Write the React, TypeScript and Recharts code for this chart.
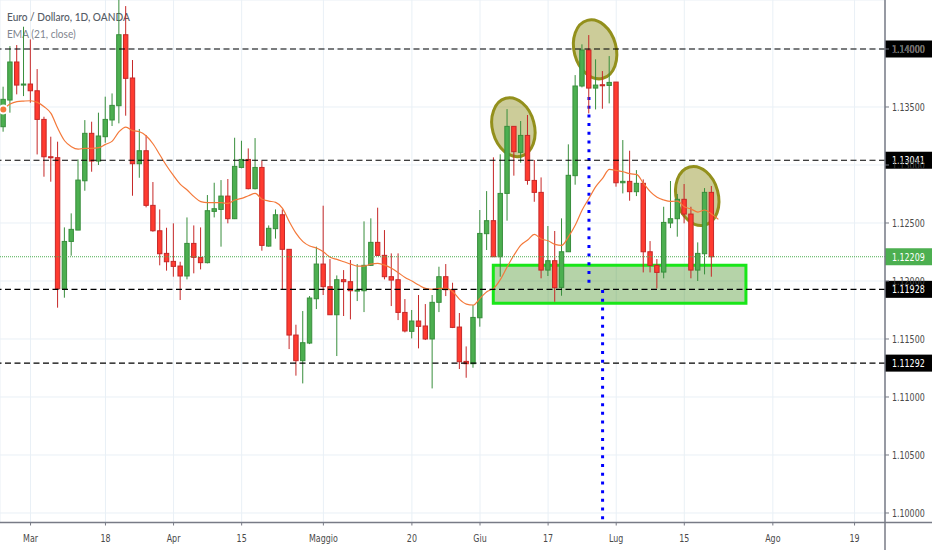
import { ComposedChart, Bar, Line, XAxis, YAxis, CartesianGrid, ReferenceLine, ReferenceArea, ReferenceDot } from 'recharts';

const axisFont = '"DejaVu Sans Condensed", "DejaVu Sans", sans-serif';
const legendFont = 'Lato, sans-serif';

const highs = [
  1.13675, 1.14025, 1.14034, 1.14192, 1.14083, 1.13827, 1.13416, 1.13244, 1.13201, 1.12462,
  1.12583, 1.13048, 1.13387, 1.13373, 1.13451, 1.13589, 1.13617, 1.14436, 1.14370, 1.13905,
  1.13310, 1.13258, 1.12853, 1.12617, 1.12459, 1.12497, 1.12166, 1.12548, 1.12479, 1.12462,
  1.12741, 1.12847, 1.12870, 1.12879, 1.13235, 1.13209, 1.13143, 1.13232, 1.13037, 1.12479,
  1.12617, 1.12617, 1.12273, 1.11623, 1.11741, 1.11870, 1.12296, 1.12649, 1.12189, 1.12048,
  1.12094, 1.12181, 1.12146, 1.12514, 1.12540, 1.12632, 1.12439, 1.12238, 1.12238, 1.11844,
  1.11750, 1.11879, 1.11801, 1.11879, 1.12123, 1.12146, 1.11985, 1.11724, 1.11436, 1.11793,
  1.12612, 1.12775, 1.13066, 1.13092, 1.13482, 1.13333, 1.13379, 1.13431, 1.13043, 1.12893,
  1.12474, 1.12431, 1.12540, 1.13178, 1.13775, 1.14040, 1.14120, 1.13911, 1.13810, 1.13939,
  1.13715, 1.13215, 1.13123, 1.12956, 1.12876, 1.12344, 1.12189, 1.12640, 1.12862, 1.12750,
  1.12836, 1.12640, 1.12333, 1.12801, 1.12819,
];
const lows = [
  1.13287, 1.13451, 1.13609, 1.13594, 1.13537, 1.13091, 1.12899, 1.12856, 1.11770, 1.11856,
  1.12218, 1.12439, 1.12778, 1.12942, 1.13000, 1.13192, 1.13336, 1.13359, 1.13425, 1.12735,
  1.12890, 1.12635, 1.12425, 1.12135, 1.12089, 1.12037, 1.11836, 1.12014, 1.12066, 1.12100,
  1.12152, 1.12548, 1.12296, 1.12497, 1.12534, 1.12971, 1.12790, 1.12790, 1.12261, 1.12296,
  1.12365, 1.11928, 1.11413, 1.11184, 1.11117, 1.11456, 1.11758, 1.11879, 1.11709, 1.11353,
  1.11698, 1.11669, 1.11827, 1.11732, 1.12129, 1.12215, 1.12014, 1.11784, 1.11663, 1.11557,
  1.11505, 1.11419, 1.11491, 1.11074, 1.11732, 1.11870, 1.11594, 1.11241, 1.11166, 1.11252,
  1.11606, 1.12267, 1.12209, 1.12037, 1.12520, 1.12908, 1.13020, 1.12830, 1.12683, 1.12023,
  1.12043, 1.11821, 1.11873, 1.12252, 1.12830, 1.13669, 1.13445, 1.13479, 1.13485, 1.13531,
  1.12813, 1.12755, 1.12692, 1.12732, 1.12074, 1.12074, 1.11936, 1.12023, 1.12456, 1.12382,
  1.12497, 1.12023, 1.12000, 1.12057, 1.12037,
];
const opens = [
  1.13330, 1.13560, 1.13888, 1.13689, 1.13698, 1.13640, 1.13393, 1.13071, 1.13063, 1.11933,
  1.12341, 1.12439, 1.12864, 1.13273, 1.13034, 1.13244, 1.13388, 1.13511, 1.14123, 1.13750,
  1.13011, 1.13123, 1.12652, 1.12433, 1.12238, 1.12169, 1.12129, 1.12043, 1.12324, 1.12204,
  1.12158, 1.12600, 1.12617, 1.12732, 1.12537, 1.12979, 1.13048, 1.12796, 1.12979, 1.12301,
  1.12451, 1.12571, 1.12273, 1.11534, 1.11313, 1.11465, 1.11847, 1.12146, 1.11951, 1.11709,
  1.12011, 1.11994, 1.11913, 1.11916, 1.12135, 1.12333, 1.12221, 1.12037, 1.12011, 1.11729,
  1.11566, 1.11655, 1.11612, 1.11500, 1.11816, 1.12037, 1.11925, 1.11603, 1.11307, 1.11287,
  1.11683, 1.12408, 1.12520, 1.12209, 1.12755, 1.13333, 1.13109, 1.13255, 1.12867, 1.12764,
  1.12094, 1.12175, 1.11945, 1.12252, 1.12908, 1.13681, 1.13991, 1.13663, 1.13692, 1.13686,
  1.13715, 1.12847, 1.12859, 1.12770, 1.12842, 1.12252, 1.12135, 1.12077, 1.12500, 1.12537,
  1.12704, 1.12577, 1.12094, 1.12235, 1.12764,
];
const closes = [
  1.13566, 1.13888, 1.13689, 1.13698, 1.13640, 1.13393, 1.13071, 1.13063, 1.11933, 1.12341,
  1.12445, 1.12870, 1.13273, 1.13034, 1.13250, 1.13393, 1.13514, 1.14123, 1.13747, 1.13011,
  1.13123, 1.12652, 1.12433, 1.12235, 1.12166, 1.12126, 1.12043, 1.12324, 1.12204, 1.12158,
  1.12606, 1.12623, 1.12732, 1.12537, 1.12988, 1.13048, 1.12796, 1.12979, 1.12307, 1.12454,
  1.12571, 1.12273, 1.11534, 1.11313, 1.11468, 1.11853, 1.12146, 1.11951, 1.11709, 1.12011,
  1.11994, 1.11916, 1.11922, 1.12135, 1.12333, 1.12221, 1.12037, 1.12008, 1.11729, 1.11569,
  1.11655, 1.11609, 1.11500, 1.11816, 1.12037, 1.11925, 1.11600, 1.11304, 1.11287, 1.11686,
  1.12410, 1.12520, 1.12209, 1.12755, 1.13333, 1.13115, 1.13255, 1.12867, 1.12764, 1.12094,
  1.12175, 1.11942, 1.12252, 1.12911, 1.13681, 1.13991, 1.13663, 1.13689, 1.13683, 1.13712,
  1.12847, 1.12859, 1.12770, 1.12842, 1.12252, 1.12135, 1.12074, 1.12505, 1.12537, 1.12704,
  1.12577, 1.12094, 1.12238, 1.12764, 1.12209,
];
const ema21 = [
  1.13479, 1.13525, 1.13546, 1.13551, 1.13554, 1.13540, 1.13502, 1.13445, 1.13316, 1.13209,
  1.13158, 1.13137, 1.13143, 1.13143, 1.13149, 1.13178, 1.13206, 1.13287, 1.13327, 1.13296,
  1.13287, 1.13250, 1.13181, 1.13086, 1.12991, 1.12908, 1.12833, 1.12784, 1.12727, 1.12684,
  1.12675, 1.12675, 1.12675, 1.12669, 1.12698, 1.12712, 1.12735, 1.12755, 1.12704, 1.12689,
  1.12678, 1.12626, 1.12511, 1.12410, 1.12339, 1.12301, 1.12284, 1.12252, 1.12204, 1.12186,
  1.12166, 1.12146, 1.12129, 1.12129, 1.12146, 1.12152, 1.12137, 1.12109, 1.12071, 1.12031,
  1.12000, 1.11965, 1.11936, 1.11928, 1.11936, 1.11936, 1.11908, 1.11842, 1.11801, 1.11793,
  1.11850, 1.11908, 1.11936, 1.12014, 1.12123, 1.12224, 1.12310, 1.12353, 1.12402, 1.12362,
  1.12347, 1.12316, 1.12307, 1.12382, 1.12482, 1.12612, 1.12712, 1.12813, 1.12885, 1.12962,
  1.12954, 1.12942, 1.12925, 1.12919, 1.12842, 1.12770, 1.12721, 1.12698, 1.12686, 1.12689,
  1.12640, 1.12620, 1.12594, 1.12612, 1.12577, 1.12531,
];

const priceTicks = [1.1, 1.105, 1.11, 1.115, 1.12, 1.125, 1.13, 1.135, 1.14];
const dateTicks = [4, 15, 25, 35, 47, 60, 70, 80, 90, 100, 113, 125];
const dateLabels = ['Mar', '18', 'Apr', '15', 'Maggio', '20', 'Giu', '17', 'Lug', '15', 'Ago', '19'];
const levels = [1.14, 1.13041, 1.11928, 1.11292];
const lastPrice = 1.12209;
const ellipseDays = [74.9, 86.9, 101.9];
const ellipsePrices = [1.13325, 1.13997, 1.12733];

const data = ema21.map((ema, i) => ({
  day: i,
  ema,
  open: opens[i],
  high: highs[i],
  low: lows[i],
  close: closes[i],
}));

function Candle(props: any) {
  const { x, y, width, height, payload } = props;
  if (payload.high === undefined) return null;
  const up = payload.close >= payload.open;
  const perUnit = height / (payload.high - payload.low);
  const top = y + (payload.high - Math.max(payload.open, payload.close)) * perUnit;
  const bottom = y + (payload.high - Math.min(payload.open, payload.close)) * perUnit;
  const mid = x + width / 2;
  const edge = up ? '#388e3c' : '#c62828';
  return (
    <g>
      <line x1={mid} x2={mid} y1={y} y2={y + height} stroke={edge} strokeWidth={1} />
      <rect
        x={x}
        y={top}
        width={width}
        height={Math.max(bottom - top, 1)}
        fill={up ? '#4caf50' : '#ff3b30'}
        stroke={edge}
        strokeWidth={1}
      />
    </g>
  );
}

function Ellipse(props: any) {
  const { cx, cy } = props;
  return (
    <ellipse
      cx={cx}
      cy={cy}
      rx={21}
      ry={30}
      transform={`rotate(-15 ${cx} ${cy})`}
      fill="#808000"
      fillOpacity={0.4}
      stroke="#93901c"
      strokeWidth={3}
    />
  );
}

function PriceTick({ x, y, payload }: any) {
  return (
    <text transform={`translate(${x + 1} ${y + 4}) scale(0.8 1)`} fill="#4a4a4a" fontSize={11} fontFamily={axisFont}>
      {payload.value.toFixed(5)}
    </text>
  );
}

function DateTick({ x, y, payload }: any) {
  return (
    <text
      transform={`translate(${x} ${y + 14}) scale(0.8 1)`}
      textAnchor="middle"
      fill="#4a4a4a"
      fontSize={11}
      fontFamily={axisFont}
    >
      {dateLabels[dateTicks.indexOf(payload.value)]}
    </text>
  );
}

function PriceTag({ viewBox, value, fill }: any) {
  const left = viewBox.x + viewBox.width;
  return (
    <g>
      <rect x={left} y={viewBox.y - 8.5} width={47} height={17} fill={fill} />
      <text transform={`translate(${left + 7} ${viewBox.y + 4}) scale(0.8 1)`} fill="#fff" fontSize={11} fontFamily={axisFont}>
        {value.toFixed(5)}
      </text>
    </g>
  );
}

export default function App() {
  return (
    <div style={{ position: 'absolute', left: 0, top: 0, width: 932, height: 550, background: '#fff' }}>
      <ComposedChart width={932} height={550} data={data} margin={{ top: 0, right: 0, bottom: 0, left: 0 }}>
        <CartesianGrid stroke="#e9f0f6" strokeWidth={1} />
        <XAxis
          dataKey="day"
          type="number"
          domain={[-0.485, 129.47]}
          allowDataOverflow
          ticks={dateTicks}
          interval={0}
          height={27.5}
          tickSize={3}
          axisLine={{ stroke: '#787b86', strokeWidth: 1.5 }}
          tickLine={{ stroke: '#787b86' }}
          tick={<DateTick />}
        />
        <YAxis
          orientation="right"
          type="number"
          domain={[1.09918, 1.144224]}
          allowDataOverflow
          ticks={priceTicks}
          interval={0}
          width={47}
          tickSize={4}
          axisLine={{ stroke: '#787b86', strokeWidth: 1.5 }}
          tickLine={{ stroke: '#787b86' }}
          tick={<PriceTick />}
        />
        <ReferenceArea
          x1={71.95}
          x2={109.05}
          y1={1.11808}
          y2={1.12135}
          fill="#2c8106"
          fillOpacity={0.35}
          stroke="#19e619"
          strokeWidth={3}
          zIndex={150}
        />
        {ellipseDays.map((day, i) => (
          <ReferenceDot key={day} x={day} y={ellipsePrices[i]} r={20} shape={<Ellipse />} zIndex={150} />
        ))}
        <ReferenceLine
          segment={[{ x: 86, y: 1.13586 }, { x: 86, y: 1.11966 }]}
          stroke="#0000ff"
          strokeWidth={3}
          strokeDasharray="3 5.7"
          zIndex={150}
        />
        <ReferenceLine
          segment={[{ x: 88, y: 1.11922 }, { x: 88, y: 1.09918 }]}
          stroke="#0000ff"
          strokeWidth={3}
          strokeDasharray="3 5.7"
          zIndex={150}
        />
        <Bar
          dataKey={(d: any) => (d.high === undefined ? null : [d.low, d.high])}
          barSize={4.4}
          shape={<Candle />}
          isAnimationActive={false}
        />
        <Line dataKey="ema" stroke="#f4793a" strokeWidth={1.2} dot={false} type="monotone" isAnimationActive={false} />
        <ReferenceLine
          y={lastPrice}
          stroke="#4caf50"
          strokeDasharray="1 1"
          label={<PriceTag value={lastPrice} fill="#4caf50" />}
        />
        {levels.map((level) => (
          <ReferenceLine
            key={level}
            y={level}
            stroke="#000"
            strokeWidth={1.2}
            strokeDasharray="6 3.5"
            label={<PriceTag value={level} fill="#000" />}
          />
        ))}
        <line x1={885} x2={885} y1={522} y2={550} stroke="#787b86" strokeWidth={1.5} />
        <line x1={885} x2={932} y1={522.5} y2={522.5} stroke="#787b86" strokeWidth={1.5} />
        <text transform="translate(7 20.5) scale(0.88 1)" fill="#555c66" fontSize={11.5} fontWeight={500} fontFamily={legendFont}>
          Euro / Dollaro, 1D, OANDA
        </text>
        <text transform="translate(7 38) scale(0.88 1)" fill="#7f858e" fontSize={11.5} fontFamily={legendFont}>
          EMA (21, close)
        </text>
      </ComposedChart>
    </div>
  );
}
